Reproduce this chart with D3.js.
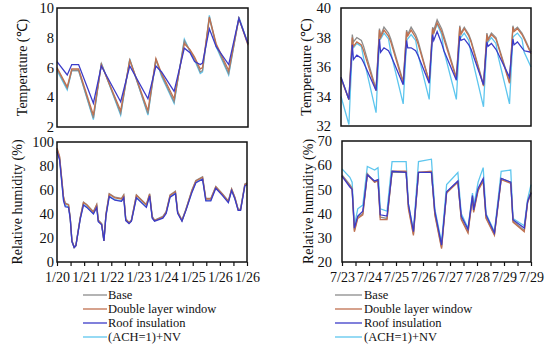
<!DOCTYPE html>
<html>
<head>
<meta charset="utf-8">
<script src="https://cdn.jsdelivr.net/npm/d3@7"></script>
<style>
  body { margin: 0; background: #fff; }
  svg { font-family: "Liberation Serif", "Times New Roman", serif; }
</style>
</head>
<body>
<script>
var width = 550,
    height = 351;

var seriesNames = ['Base', 'Double layer window', 'Roof insulation', '(ACH=1)+NV'];
var seriesColors = ['#8c8c8c', '#c0704f', '#3b3bc8', '#5ec6ee'];

var winterLabels = ['1/20', '1/21', '1/22', '1/23', '1/24', '1/25', '1/26', '1/26'];
var summerLabels = ['7/23', '7/24', '7/25', '7/26', '7/27', '7/28', '7/29', '7/29'];

// winter temperature (hours from start)
var wTempHours = [0, 9, 13, 19, 32, 39, 56, 64, 80, 87, 92, 103, 112, 117, 121, 126, 128, 134, 140, 151, 160, 168];
var wTempBase = [5.9, 4.6, 5.8, 5.8, 2.6, 6.25, 2.9, 6.5, 2.9, 6.5, 5.5, 3.7, 7.8, 7.1, 6.6, 5.7, 5.8, 9.3, 7.5, 5.6, 9.3, 7.6];
var wTempDlw = [6.0, 4.7, 5.9, 5.9, 2.8, 6.2, 3.1, 6.5, 3.1, 6.6, 5.6, 3.9, 7.6, 7.2, 6.7, 5.9, 6.0, 9.4, 7.6, 5.8, 9.3, 7.5];
var wTempRoof = [6.4, 5.5, 6.2, 6.2, 3.6, 6.1, 3.7, 6.1, 3.9, 6.1, 5.7, 4.4, 7.3, 7.0, 6.4, 6.2, 6.3, 8.6, 7.4, 6.2, 9.3, 7.6];
var wTempAch = [5.8, 4.5, 5.8, 5.8, 2.5, 6.3, 2.8, 6.6, 2.8, 6.6, 5.4, 3.6, 7.9, 7.1, 6.5, 5.6, 5.7, 9.5, 7.4, 5.5, 9.4, 7.6];

// winter relative humidity
var wRhHours = [0, 2.3, 5.8, 7.3, 10.2, 11.7, 13.2, 15.2, 16.7, 20.5, 23.4, 26.3, 32.2, 35.1, 36.5, 39.5, 41.5, 43.3, 46.2, 51.2, 57, 59, 60.8, 63.7, 65.8, 70.2, 74.6, 79, 81.9, 84.2, 86.3, 93.6, 96.5, 100, 104.7, 106.7, 110.5, 114, 119.3, 122.8, 128.7, 131.6, 136, 140.4, 146.2, 151.5, 154.4, 157.3, 160.2, 162.3, 166.1, 168];
var wRhBase = [94, 87, 54, 49, 48, 37, 18, 12.5, 14, 37, 50, 48, 42, 48, 35, 32, 18, 40, 57, 54, 53, 56, 36, 33, 35, 56, 52, 48, 57, 38, 35, 38, 42, 56, 59, 42, 35, 44, 60, 68, 71, 53, 53, 63, 57, 51, 61, 54, 44, 44, 65, 66];
var wRhDlw = [95, 88, 54, 48.5, 47.5, 36.5, 17.5, 12, 13.5, 36.5, 49.5, 47.5, 41.5, 47.5, 34.5, 31.5, 17.5, 39.5, 56.5, 53.5, 52.5, 55.5, 35.5, 32.5, 34.5, 55.5, 51.5, 47.5, 56.5, 37.5, 34.5, 37.5, 41.5, 55.5, 58.5, 41.5, 34.5, 43.5, 59.5, 67.5, 70.5, 52.5, 52.5, 62.5, 56.5, 50.5, 60.5, 53.5, 43.5, 43.5, 64.5, 65.5];
var wRhRoof = [92, 85, 51, 46, 45.5, 36, 17, 12, 13.5, 35.5, 47.5, 45.5, 40, 45.5, 33.5, 31, 17.5, 38.5, 54.5, 51.5, 50.5, 53.5, 34.5, 32, 34, 53.5, 49.5, 45.5, 55, 36.5, 34, 36.5, 40.5, 54, 57, 40.5, 34, 43, 58, 66, 69, 51, 51, 61.5, 55.5, 49.5, 59.5, 52.5, 43, 43, 63.5, 64.5];
var wRhAch = [93, 86, 52, 47, 46, 36.5, 17, 12, 13.5, 36, 48, 46, 40.5, 46, 34, 31.5, 17.5, 39, 55, 52, 51, 54, 35, 32.5, 34.5, 54, 50, 46, 55.5, 37, 34.5, 37, 41, 54.5, 57.5, 41, 34.5, 43.5, 58.5, 66.5, 69.5, 51.5, 51.5, 62, 56, 50, 60, 53, 43.5, 43.5, 64, 65];

// summer temperature
var sTempHours = [0,
  7, 10, 11, 14, 18, 20,
  31, 34, 35, 38, 42, 44,
  55, 58, 59, 62, 66, 68,
  78, 81, 82, 85, 89, 91,
  102, 105, 106, 109, 113, 115,
  126, 129, 130, 133, 137, 139,
  149, 152, 153, 156, 160, 162,
  168];
var sTempBase = [35.3,
  33.8, 38.2, 37.7, 38.0, 37.8, 37.4,
  34.5, 38.6, 38.1, 38.7, 38.3, 37.9,
  35.0, 38.5, 38.2, 38.7, 38.2, 37.8,
  35.0, 38.7, 38.5, 39.2, 38.6, 38.1,
  35.3, 38.8, 38.3, 38.7, 38.2, 37.8,
  34.8, 38.3, 37.9, 38.3, 38.0, 37.5,
  35.0, 38.8, 38.5, 38.7, 38.3, 38.0,
  37.0];
var sTempDlw = [35.2,
  33.8, 38.0, 37.4, 37.7, 37.5, 37.1,
  34.4, 38.5, 38.0, 38.5, 38.1, 37.7,
  34.9, 38.4, 38.1, 38.5, 38.0, 37.6,
  35.0, 38.6, 38.3, 39.0, 38.4, 37.9,
  35.2, 38.7, 38.2, 38.6, 38.1, 37.7,
  34.7, 38.2, 37.8, 38.2, 37.9, 37.4,
  34.9, 38.7, 38.4, 38.6, 38.2, 37.9,
  36.9];
var sTempRoof = [35.3,
  33.8, 37.5, 36.5, 36.8, 36.6, 36.3,
  34.4, 37.9, 37.0, 37.3, 37.1, 36.8,
  34.8, 37.8, 37.3, 37.3, 37.1, 36.8,
  34.9, 38.2, 37.8, 38.4, 37.6, 37.1,
  35.1, 38.1, 37.8, 37.9, 37.5, 37.2,
  34.8, 37.7, 37.4, 37.6, 37.2, 36.9,
  35.3, 37.9, 37.5, 37.7, 37.3, 37.1,
  37.0];
var sTempAch = [34.0,
  32.1, 37.3, 37.3, 37.6, 37.4, 36.6,
  32.9, 37.9, 37.9, 38.3, 37.9, 37.0,
  33.5, 37.8, 37.9, 38.2, 37.8, 36.9,
  33.8, 38.3, 38.3, 38.9, 38.2, 37.1,
  33.8, 38.1, 38.0, 38.3, 37.8, 36.9,
  33.3, 37.8, 37.7, 38.0, 37.6, 36.7,
  33.5, 38.0, 38.1, 38.3, 37.9, 37.0,
  36.0];

// summer relative humidity
var sRhHours = [0, 7, 9, 11, 14, 18.5, 22.5, 29, 32, 34, 40, 44.5, 57, 59, 63.5, 68, 79.5, 82.5, 88.5, 93, 103, 106, 112, 116, 117, 121, 125.5, 128, 135.5, 141.5, 150, 152, 162, 165, 168];
var sRhBase = [56, 52, 50.5, 33, 38.5, 40, 56.5, 53, 54, 38.5, 38, 57, 57, 43, 31.5, 57, 57, 40, 26, 49, 53, 38, 32.5, 47, 41, 50, 54, 38.5, 31.5, 54.5, 53, 37, 33, 45, 49];
var sRhDlw = [55.5, 51.5, 50, 32.5, 38, 39.5, 56, 53, 53.5, 37.5, 37.5, 57.5, 57.5, 42, 31, 57, 57.5, 39.5, 25.5, 48.5, 53, 37.5, 32, 46.5, 40.5, 49.5, 53.5, 38, 31, 54, 52.5, 36.5, 32.5, 44.5, 48.5];
var sRhRoof = [55.5, 51, 50, 34, 39, 41, 56, 53.5, 54, 39.5, 39, 57.5, 57, 44, 32.5, 57, 57, 41, 27, 49, 53.5, 39, 33.5, 47.5, 41.5, 50.5, 54.5, 39.5, 32, 54.5, 53, 37.5, 34, 45, 48.5];
var sRhAch = [58.5, 55, 53, 35, 42, 43.5, 59.5, 58, 59, 42, 41, 61.5, 61.5, 44, 33, 61.5, 62.5, 42, 28, 52, 57, 40, 34, 48.5, 43, 53, 59, 40, 32.5, 57.5, 58, 38, 35, 46, 52];

var svg = d3.select('body')
    .append('svg')
    .attr('width', width)
    .attr('height', height);

function panel(opts) {
    var x = d3.scaleLinear().domain([0, 168]).range([opts.x0, opts.x1]);
    var y = d3.scaleLinear().domain(opts.yDomain).range([opts.y1, opts.y0]);

    var g = svg.append('g');

    // lines: ACH first so the others sit on top
    var order = [3, 0, 1, 2];
    order.forEach(function(i) {
        var pts = opts.hours.map(function(h, k) { return [h, opts.series[i][k]]; });
        g.append('path')
            .attr('d', d3.line().x(function(d) { return x(d[0]); }).y(function(d) { return y(d[1]); })(pts))
            .attr('fill', 'none')
            .attr('stroke', seriesColors[i])
            .attr('stroke-width', 1.3);
    });

    g.append('rect')
        .attr('x', opts.x0).attr('y', opts.y0)
        .attr('width', opts.x1 - opts.x0).attr('height', opts.y1 - opts.y0)
        .attr('fill', 'none').attr('stroke', '#111').attr('stroke-width', 1.5);

    var ya = g.append('g')
        .attr('transform', 'translate(' + opts.x0 + ',0)')
        .call(d3.axisLeft(y).tickValues(opts.yTicks).tickSize(0).tickPadding(opts.pad));
    ya.select('.domain').remove();
    ya.selectAll('text').attr('font-size', 14.5).attr('fill', '#111')
        .attr('font-family', '"Liberation Serif", serif');

    g.append('text')
        .attr('transform', 'translate(' + opts.labelX + ',' + ((opts.y0 + opts.y1) / 2) + ') rotate(-90)')
        .attr('text-anchor', 'middle')
        .attr('dominant-baseline', 'central')
        .attr('font-size', 14)
        .attr('fill', '#111')
        .text(opts.label);

    if (opts.xLabels) {
        var xa = g.append('g')
            .attr('transform', 'translate(0,' + opts.y1 + ')')
            .call(d3.axisBottom(x).tickValues(d3.range(0, 169, 12)).tickSize(4).tickPadding(6)
                .tickFormat(function(d) { return d % 24 === 0 ? opts.xLabels[d / 24] : ''; }));
        xa.select('.domain').remove();
        xa.selectAll('line').attr('stroke', '#111').attr('stroke-width', 1.2);
        xa.selectAll('text').attr('font-size', 14).attr('fill', '#111')
            .attr('font-family', '"Liberation Serif", serif');
    }
}

panel({x0: 57, x1: 248, y0: 8, y1: 127, yDomain: [2, 10], yTicks: [2, 4, 6, 8, 10], pad: 3,
       hours: wTempHours, series: [wTempBase, wTempDlw, wTempRoof, wTempAch],
       label: 'Temperature (℃)', labelX: 22});
panel({x0: 57, x1: 247, y0: 142, y1: 262, yDomain: [0, 100], yTicks: [0, 20, 40, 60, 80, 100], pad: 3,
       hours: wRhHours, series: [wRhBase, wRhDlw, wRhRoof, wRhAch],
       label: 'Relative humidity (%)', labelX: 17, xLabels: winterLabels});
panel({x0: 341, x1: 531, y0: 8, y1: 126, yDomain: [32, 40], yTicks: [32, 34, 36, 38, 40], pad: 10,
       hours: sTempHours, series: [sTempBase, sTempDlw, sTempRoof, sTempAch],
       label: 'Temperature (℃)', labelX: 306});
panel({x0: 342, x1: 531, y0: 141, y1: 262, yDomain: [20, 70], yTicks: [20, 30, 40, 50, 60, 70], pad: 10,
       hours: sRhHours, series: [sRhBase, sRhDlw, sRhRoof, sRhAch],
       label: 'Relative humidity (%)', labelX: 308, xLabels: summerLabels});

// legends
function legend(lx0, lx1, tx) {
    var rows = [295, 309, 323, 337];
    seriesNames.forEach(function(name, i) {
        svg.append('line')
            .attr('x1', lx0).attr('x2', lx1)
            .attr('y1', rows[i]).attr('y2', rows[i])
            .attr('stroke', seriesColors[i]).attr('stroke-width', 1.3);
        svg.append('text')
            .attr('x', tx).attr('y', rows[i])
            .attr('dominant-baseline', 'central')
            .attr('font-size', 12.5)
            .attr('fill', '#111')
            .text(name);
    });
}
legend(83, 107, 108);
legend(335, 362, 364);
</script>
</body>
</html>
